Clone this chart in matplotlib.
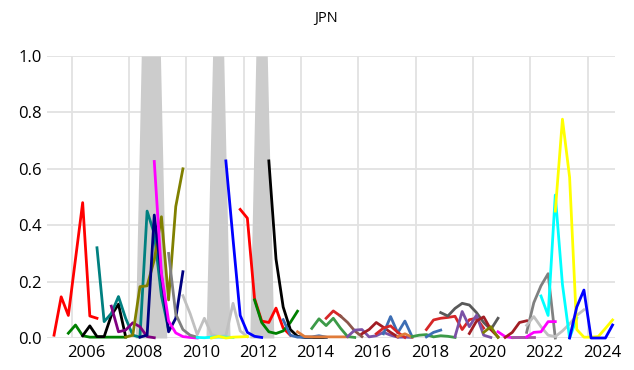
import numpy as np
import matplotlib
matplotlib.use("Agg")
import matplotlib.pyplot as plt

plt.rcParams['font.family'] = ['Open Sans', 'DejaVu Sans']

# shaded periods (0 = off, 1 = on)
rec_years = [2008.21, 2008.42, 2009.09, 2009.31,
             2010.68, 2010.91, 2011.30, 2011.52,
             2012.21, 2012.42, 2012.82, 2013.05]
rec_flag = [0, 1, 1, 0, 0, 1, 1, 0, 0, 1, 1, 0]

# each vintage: first quarter + quarterly probabilities
starts = ["2005Q2", "2005Q4", "2006Q2", "2006Q4", "2007Q2", "2007Q4", "2008Q2",
          "2008Q4", "2009Q2", "2009Q4", "2010Q2", "2010Q4", "2011Q2", "2011Q4",
          "2012Q2", "2012Q4", "2013Q2", "2013Q4", "2014Q2", "2014Q4", "2015Q2",
          "2015Q3", "2016Q1", "2016Q4", "2016Q3", "2017Q2", "2017Q4", "2018Q2",
          "2018Q2", "2018Q4", "2019Q2", "2019Q4", "2020Q2", "2020Q4", "2021Q1",
          "2021Q2", "2021Q4", "2021Q4", "2021Q4", "2022Q2", "2022Q4", "2023Q2"]
probs = [
    [0.01, 0.146, 0.08, 0.28, 0.48, 0.078, 0.07],
    [0.017, 0.046, 0.008, 0.003, 0.003, 0.003, 0.003, 0.003, 0.003],
    [0.008, 0.043, 0.005, 0.005, 0.08, 0.12, 0.005],
    [0.32, 0.058, 0.087, 0.147, 0.07, 0.01, 0.003, 0.45, 0.37, 0.15, 0.03],
    [0.113, 0.022, 0.028, 0.054, 0.04, 0.005, 0.001],
    [0.003, 0.01, 0.182, 0.185, 0.277, 0.43, 0.135, 0.466, 0.60],
    [0.003, 0.01, 0.436, 0.22, 0.022, 0.07, 0.235],
    [0.626, 0.23, 0.06, 0.018, 0.005, 0.002, 0.0],
    [0.30, 0.085, 0.03, 0.01, 0.003],
    [0.15, 0.087, 0.012, 0.07, 0.012, 0.005, 0.008, 0.123, 0.025, 0.005],
    [0.002, 0.001, 0.003, 0.004, 0.003, 0.002],
    [0.0, 0.006, 0.0, 0.003, 0.004, 0.005],
    [0.628, 0.35, 0.08, 0.02, 0.006, 0.002],
    [0.456, 0.425, 0.14, 0.06, 0.055, 0.106, 0.035, 0.01],
    [0.135, 0.055, 0.022, 0.016, 0.025, 0.055, 0.095],
    [0.628, 0.28, 0.11, 0.03, 0.006, 0.002, 0.002, 0.002, 0.002],
    [0.065, 0.01, 0.003, 0.003, 0.004, 0.008, 0.003],
    [0.022, 0.005, 0.004, 0.004, 0.004, 0.004, 0.004, 0.004],
    [0.034, 0.068, 0.044, 0.07, 0.035, 0.005, 0.002],
    [0.07, 0.096, 0.078],
    [0.078, 0.055, 0.025, 0.005],
    [0.005, 0.028, 0.03, 0.004, 0.008, 0.02, 0.01, 0.003, 0.003, 0.002],
    [0.015, 0.03, 0.055, 0.038, 0.02, 0.004],
    [0.015, 0.076, 0.018, 0.06, 0.005],
    [0.015, 0.035, 0.043, 0.02, 0.002],
    [0.005, 0.015, 0.003],
    [0.005, 0.01, 0.012, 0.004, 0.008, 0.006, 0.002],
    [0.004, 0.02, 0.028],
    [0.03, 0.064, 0.07, 0.073, 0.077, 0.03, 0.065, 0.07, 0.035],
    [0.09, 0.078, 0.105, 0.123, 0.117, 0.09, 0.055, 0.03, 0.07],
    [0.005, 0.094, 0.04, 0.081, 0.01, 0.002],
    [0.016, 0.06, 0.075, 0.03, 0.004],
    [0.02, 0.04, 0.002],
    [0.022, 0.005, 0.001, 0.002, 0.002],
    [0.002, 0.02, 0.055, 0.061],
    [0.002, 0.002, 0.002, 0.002],
    [0.02, 0.125, 0.185, 0.228, 0.0],
    [0.045, 0.076, 0.04, 0.01, 0.005, 0.025, 0.05, 0.08, 0.1],
    [0.004, 0.02, 0.022, 0.058, 0.058],
    [0.149, 0.08, 0.507, 0.19, 0.0, 0.07],
    [0.45, 0.776, 0.57, 0.03, 0.003, 0.003, 0.005, 0.034, 0.064],
    [0.0, 0.11, 0.17, 0.0, 0.0, 0.0, 0.046],
]
colors = ["#ff0000", "#008000", "#000000", "#008080", "#800080", "#808000", "#000080",
          "#ff00ff", "#808080", "#c0c0c0", "#00ffff", "#ffff00", "#0000ff", "#ff0000",
          "#008000", "#000000", "#3d6eb4", "#e07b39", "#3c9a48", "#d62728", "#8c564b",
          "#7b52a6", "#a21d24", "#3d6eb4", "#d62728", "#e07b39", "#3c9a48", "#3d6eb4",
          "#d62728", "#595959", "#7b52a6", "#a21d24", "#808000", "#ff00ff", "#a21d24",
          "#a05a9e", "#808080", "#c0c0c0", "#ff00ff", "#00ffff", "#ffff00", "#0000ff"]

grid_years = list(range(2006, 2025, 2))
y_ticks = [0.0, 0.2, 0.4, 0.6, 0.8, 1.0]


def quarter_years(label, n):
    yr = int(label[:4])
    q = int(label[-1])
    first = yr + (q - 1) * 0.25 + 0.125
    return [first + 0.25 * i for i in range(n)]


fig = plt.figure(figsize=(6.34, 3.70), dpi=100)
ax = fig.add_axes([47 / 634, 32 / 370, 568 / 634, 282 / 370])

ax.fill_between(rec_years, 0, rec_flag, color="#cccccc", lw=0, zorder=1.5)

for start, vals, c in zip(starts, probs, colors):
    ax.plot(quarter_years(start, len(vals)), vals, color=c, lw=2.0, clip_on=False, zorder=3)

ax.set_xlim(2005.13, 2024.96)
ax.set_ylim(0, 1)

ax.set_yticks(y_ticks)
ax.set_yticklabels(["%.1f" % v for v in y_ticks])
ax.set_xticks([g + 0.5 for g in grid_years])
ax.set_xticklabels([str(g) for g in grid_years])
ax.set_xticks(grid_years, minor=True)

ax.set_axisbelow(True)
ax.grid(axis="y", which="major", color="#e2e2e2", lw=1.3)
ax.grid(axis="x", which="minor", color="#e2e2e2", lw=1.3)
ax.grid(axis="x", which="major", visible=False)
ax.tick_params(which="both", length=0, labelsize=12, colors="#000000")
ax.tick_params(axis="y", pad=4)
ax.tick_params(axis="x", pad=5)
for s in ax.spines.values():
    s.set_visible(False)

fig.text(0.514, 0.949, "JPN", ha="center", va="center", fontsize=10.5)

fig.savefig("out.png", dpi=100)
